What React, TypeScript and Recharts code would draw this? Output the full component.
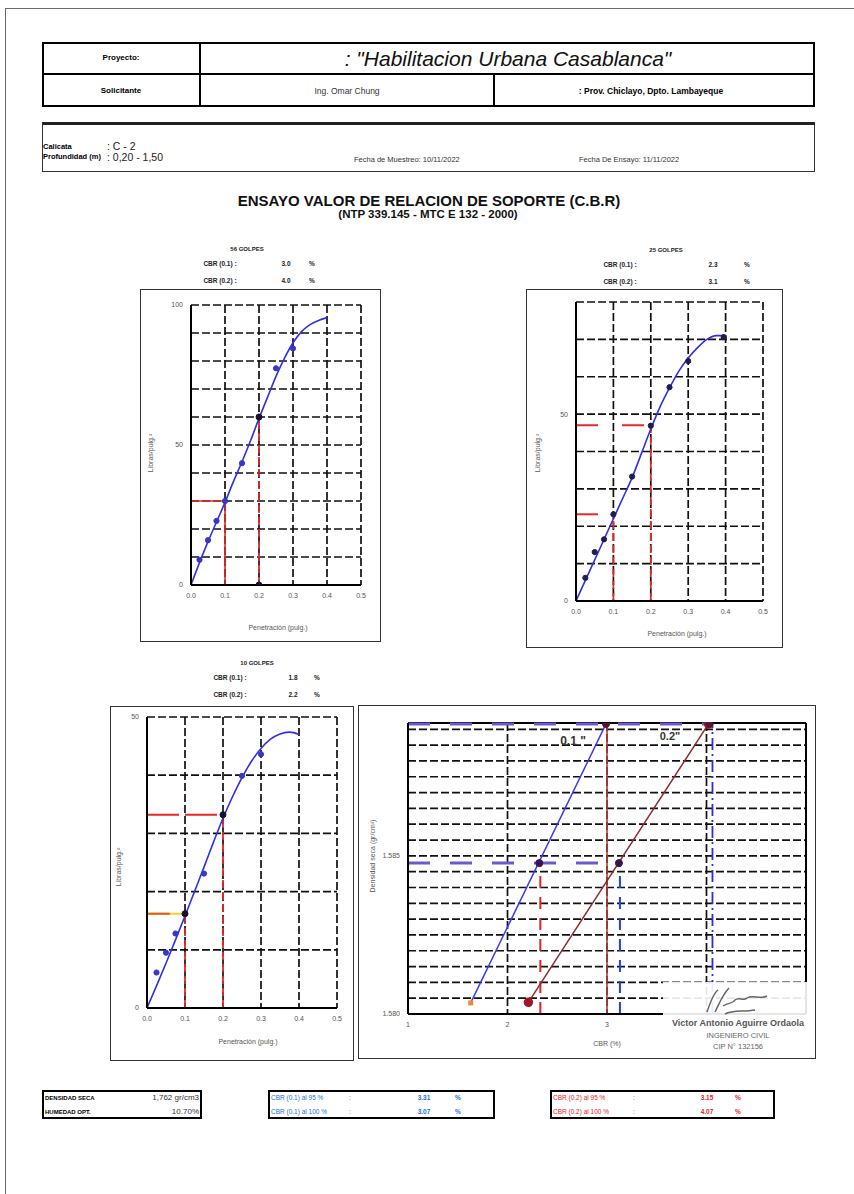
import React from 'react';
import { ComposedChart, Line, XAxis, YAxis, CartesianGrid, ReferenceLine } from 'recharts';

const FONT = '"Liberation Sans", Arial, sans-serif';

// ---------- Penetration charts ----------
const penTicks = [0, 0.1, 0.2, 0.3, 0.4, 0.5];

// 56 golpes
const load56Ticks = [0, 10, 20, 30, 40, 50, 60, 70, 80, 90, 100];
const load56Labeled = [0, 50, 100];
const pts56 = [
  { x: 0.025, y: 9 }, { x: 0.05, y: 16 }, { x: 0.075, y: 22.9 }, { x: 0.1, y: 30 },
  { x: 0.15, y: 43.5 }, { x: 0.2, y: 60 }, { x: 0.25, y: 77.4 }, { x: 0.3, y: 84.5 },
];
const curve56 = [
  { x: 0, y: 0 }, { x: 0.025, y: 8 }, { x: 0.05, y: 15.5 }, { x: 0.075, y: 22.5 }, { x: 0.1, y: 29.5 },
  { x: 0.125, y: 37 }, { x: 0.15, y: 44 }, { x: 0.175, y: 51.5 }, { x: 0.2, y: 59.5 }, { x: 0.225, y: 67 },
  { x: 0.25, y: 74.5 }, { x: 0.275, y: 81 }, { x: 0.3, y: 86.5 }, { x: 0.325, y: 90.5 }, { x: 0.35, y: 93 },
  { x: 0.375, y: 94.5 }, { x: 0.4, y: 95.5 },
];
const marks56 = [{ x: 0.2, y: 60 }, { x: 0.2, y: 0 }];
const guides56 = [
  { x1: 0, y1: 30, x2: 0.1, y2: 30 },
  { x1: 0.1, y1: 0, x2: 0.1, y2: 30 },
  { x1: 0.2, y1: 0, x2: 0.2, y2: 60 },
];
const cbr56 = { c01: '3.0', c02: '4.0' };

// 25 golpes
const load25Ticks = [0, 10, 20, 30, 40, 50, 60, 70, 80];
const load25Labeled = [0, 50];
const pts25 = [
  { x: 0.025, y: 6.2 }, { x: 0.05, y: 13.1 }, { x: 0.075, y: 16.5 }, { x: 0.1, y: 23.2 },
  { x: 0.15, y: 33.3 }, { x: 0.2, y: 46.9 }, { x: 0.25, y: 57.2 }, { x: 0.3, y: 64.2 }, { x: 0.395, y: 70.6 },
];
const curve25 = [
  { x: 0, y: 0 }, { x: 0.025, y: 5.5 }, { x: 0.05, y: 11 }, { x: 0.075, y: 16.5 }, { x: 0.1, y: 22 },
  { x: 0.125, y: 27.5 }, { x: 0.15, y: 33 }, { x: 0.175, y: 39.5 }, { x: 0.2, y: 46 }, { x: 0.225, y: 52 },
  { x: 0.25, y: 57 }, { x: 0.275, y: 61.5 }, { x: 0.3, y: 65 }, { x: 0.325, y: 67.8 }, { x: 0.35, y: 70 },
  { x: 0.375, y: 71 }, { x: 0.4, y: 71 },
];
const marks25: { x: number; y: number }[] = [];
const guides25 = [
  { x1: 0, y1: 47, x2: 0.2, y2: 47 },
  { x1: 0, y1: 23.2, x2: 0.1, y2: 23.2 },
  { x1: 0.1, y1: 0, x2: 0.1, y2: 23.2 },
  { x1: 0.2, y1: 0, x2: 0.2, y2: 47 },
];
const cbr25 = { c01: '2.3', c02: '3.1' };

// 10 golpes
const load10Ticks = [0, 10, 20, 30, 40, 50];
const load10Labeled = [0, 50];
const pts10 = [
  { x: 0.025, y: 6.1 }, { x: 0.05, y: 9.5 }, { x: 0.075, y: 12.8 }, { x: 0.15, y: 23.1 },
  { x: 0.25, y: 39.9 }, { x: 0.3, y: 43.6 },
];
const curve10 = [
  { x: 0, y: 0 }, { x: 0.025, y: 3.8 }, { x: 0.05, y: 7.7 }, { x: 0.075, y: 11.7 }, { x: 0.1, y: 15.8 },
  { x: 0.125, y: 20 }, { x: 0.15, y: 24.2 }, { x: 0.175, y: 28.5 }, { x: 0.2, y: 32.6 }, { x: 0.225, y: 36.3 },
  { x: 0.25, y: 39.6 }, { x: 0.275, y: 42.4 }, { x: 0.3, y: 44.6 }, { x: 0.325, y: 46.2 }, { x: 0.35, y: 47.1 },
  { x: 0.375, y: 47.4 }, { x: 0.4, y: 47 },
];
const marks10 = [{ x: 0.1, y: 16.2 }, { x: 0.2, y: 33.2 }];
const guides10 = [
  { x1: 0, y1: 16.2, x2: 0.1, y2: 16.2 },
  { x1: 0, y1: 16.2, x2: 0.06, y2: 16.2 },
  { x1: 0, y1: 33.2, x2: 0.2, y2: 33.2 },
  { x1: 0.1, y1: 0, x2: 0.1, y2: 16.2 },
  { x1: 0.2, y1: 0, x2: 0.2, y2: 33.2 },
];
const cbr10 = { c01: '1.8', c02: '2.2' };

// ---------- CBR vs density chart ----------
const cbrTicks = [1, 2, 3, 4, 5];
const cbrLabeled = [1, 2, 3]; // 4 and 5 sit under the signature stamp
const densTicks = [
  1.58, 1.5805, 1.581, 1.5815, 1.582, 1.5825, 1.583, 1.5835, 1.584, 1.5845,
  1.585, 1.5855, 1.586, 1.5865, 1.587, 1.5875, 1.588, 1.5885, 1.589,
];
const densLabeled = [1.58, 1.585];
const densDomain = [1.58, 1.5892];
const cbrDomain = [1, 5];
const line01 = [{ x: 1.63, y: 1.58035 }, { x: 2.99, y: 1.58917 }];
const line02 = [{ x: 2.21, y: 1.58037 }, { x: 4.02, y: 1.58917 }];
const dens95 = 1.58477;
const dens100 = 1.58917;
const cbr01at95 = 2.33;
const cbr02at95 = 3.13;
const cbr01at100 = 3.0;
const cbr02at100 = 4.06;
const marks95 = [{ x: 2.32, y: dens95 }, { x: 3.12, y: dens95 }];
const marks100 = [{ x: 2.99, y: dens100 }, { x: 4.03, y: dens100 }];

// ---------- Summary ----------
const densidadSeca = '1,762 gr/cm3';
const humedadOpt = '10.70%';
const cbr01Summary = [{ label: 'CBR (0.1) al 95 %', value: '3.31' }, { label: 'CBR (0.1) al 100 %', value: '3.07' }];
const cbr02Summary = [{ label: 'CBR (0.2) al 95 %', value: '3.15' }, { label: 'CBR (0.2) al 100 %', value: '4.07' }];

// ---------- helpers ----------
type TP = {
  x: number; y: number; children: React.ReactNode; size?: number; bold?: boolean; italic?: boolean;
  color?: string; anchor?: 'start' | 'middle' | 'end'; rotate?: boolean;
};
const T = ({ x, y, children, size = 8, bold, italic, color = '#000', anchor = 'middle', rotate }: TP) => {
  const tx = anchor === 'middle' ? '-50%' : anchor === 'end' ? '-100%' : '0';
  return (
    <div
      style={{
        position: 'absolute', left: x, top: y,
        transform: `translate(${tx}, -50%)${rotate ? ' rotate(-90deg)' : ''}`,
        fontSize: size, fontWeight: bold ? 700 : 400, fontStyle: italic ? 'italic' : 'normal',
        color, whiteSpace: 'nowrap', lineHeight: 1, fontFamily: FONT,
      }}
    >
      {children}
    </div>
  );
};

const Box = ({ x, y, w, h, bw = 2, color = '#000', style = {} }: any) => (
  <div style={{ position: 'absolute', left: x, top: y, width: w, height: h, boxSizing: 'border-box', border: `${bw}px solid ${color}`, ...style }} />
);
const HL = ({ x, y, w, t = 2, color = '#000' }: any) => (
  <div style={{ position: 'absolute', left: x, top: y - t / 2, width: w, height: t, background: color }} />
);
const VL = ({ x, y, h, t = 2, color = '#000' }: any) => (
  <div style={{ position: 'absolute', left: x - t / 2, top: y, width: t, height: h, background: color }} />
);

type Seg = { x1: number; y1: number; x2: number; y2: number };
type SegStyle = { stroke: string; dash?: string; width: number };

const tickStyle = { fontSize: 7, fill: '#555', fontFamily: FONT };

function PenChart(props: any) {
  const { box, plot, yMax, yTicks, yLabeled, pts, curve, marks, guides, guideStyles, ptColor } = props;
  const xAxisH = 20;
  const margin = {
    top: plot.y1 - box.y,
    right: box.x + box.w - plot.x2,
    bottom: box.y + box.h - plot.y2 - xAxisH,
    left: 0,
  };
  return (
    <div style={{ position: 'absolute', left: box.x, top: box.y }}>
      <ComposedChart width={box.w} height={box.h} margin={margin}>
        <XAxis
          type="number" dataKey="x" domain={[0, 0.5]} ticks={penTicks} interval={0}
          tickFormatter={(v: number) => v.toFixed(1)} tick={tickStyle} tickLine={false}
          axisLine={{ stroke: '#000', strokeWidth: 2 }} height={xAxisH} allowDataOverflow
        />
        <YAxis
          type="number" dataKey="y" domain={[0, yMax]} ticks={yTicks} interval={0}
          tickFormatter={(v: number) => (yLabeled.includes(v) ? String(v) : '')} tick={tickStyle}
          tickLine={false} axisLine={{ stroke: '#000', strokeWidth: 2 }} width={plot.x1 - box.x} allowDataOverflow
        />
        <CartesianGrid stroke="#111" strokeDasharray="8 3" strokeWidth={1.7} />
        {guides.map((g: Seg, i: number) => (
          <ReferenceLine
            key={i}
            segment={[{ x: g.x1, y: g.y1 }, { x: g.x2, y: g.y2 }]}
            stroke={guideStyles[i].stroke}
            strokeDasharray={guideStyles[i].dash}
            strokeWidth={guideStyles[i].width}
            ifOverflow="visible"
          />
        ))}
        <Line data={curve} dataKey="y" type="monotone" stroke="#2f2fe6" strokeWidth={1.6} dot={false} isAnimationActive={false} />
        <Line data={pts} dataKey="y" stroke="none" dot={{ r: 2.6, fill: ptColor, stroke: ptColor }} isAnimationActive={false} />
        <Line data={marks} dataKey="y" stroke="none" dot={{ r: 3, fill: '#1a1030', stroke: '#1a1030' }} isAnimationActive={false} />
      </ComposedChart>
    </div>
  );
}

function ChartHeader({ cx, y, title, c01, c02, labelX, valX, pctX }: any) {
  return (
    <>
      <T x={cx} y={y} size={6} bold color="#222">{title}</T>
      <T x={labelX} y={y + 15} size={6.5} bold color="#222">CBR (0.1) :</T>
      <T x={valX} y={y + 15} size={6.5} bold color="#222">{c01}</T>
      <T x={pctX} y={y + 15} size={6.5} bold color="#222">%</T>
      <T x={labelX} y={y + 32} size={6.5} bold color="#222">CBR (0.2) :</T>
      <T x={valX} y={y + 32} size={6.5} bold color="#222">{c02}</T>
      <T x={pctX} y={y + 32} size={6.5} bold color="#222">%</T>
    </>
  );
}

function CbrChart() {
  const box = { x: 358, y: 705, w: 458, h: 354 };
  const plot = { x1: 408, x2: 806, y1: 723, y2: 1014 };
  const xAxisH = 20;
  const margin = {
    top: plot.y1 - box.y,
    right: box.x + box.w - plot.x2,
    bottom: box.y + box.h - plot.y2 - xAxisH,
    left: 0,
  };
  const near = (v: number) => densLabeled.some((l) => Math.abs(l - v) < 1e-7);
  const square = (p: any) => (
    <rect key={`sq${p.index}`} x={p.cx - 2.5} y={p.cy - 2.5} width={5} height={5} fill={p.index === 0 ? '#f08a30' : '#5a1030'} />
  );
  return (
    <div style={{ position: 'absolute', left: box.x, top: box.y }}>
      <ComposedChart width={box.w} height={box.h} margin={margin}>
        <XAxis
          type="number" dataKey="x" domain={cbrDomain} ticks={cbrTicks} interval={0} tick={tickStyle}
          tickFormatter={(v: number) => (cbrLabeled.includes(v) ? String(v) : '')}
          tickLine={false} axisLine={{ stroke: '#000', strokeWidth: 2 }} height={xAxisH} allowDataOverflow
        />
        <YAxis
          type="number" dataKey="y" domain={densDomain} ticks={densTicks} interval={0}
          tickFormatter={(v: number) => (near(v) ? v.toFixed(3) : '')} tick={tickStyle}
          tickLine={false} axisLine={{ stroke: '#000', strokeWidth: 2 }} width={plot.x1 - box.x} allowDataOverflow
        />
        <CartesianGrid stroke="#111" strokeDasharray="8 3" strokeWidth={1.7} />
        <ReferenceLine y={densDomain[1]} stroke="#000" strokeWidth={2} ifOverflow="visible" />
        <ReferenceLine x={cbrDomain[1]} stroke="#000" strokeWidth={2} ifOverflow="visible" />
        <ReferenceLine segment={[{ x: cbr01at100, y: densDomain[0] }, { x: cbr01at100, y: densDomain[1] }]} stroke="#b33a3a" strokeWidth={1.6} ifOverflow="visible" />
        <ReferenceLine segment={[{ x: cbr02at100, y: densDomain[0] }, { x: cbr02at100, y: densDomain[1] }]} stroke="#2a2ae8" strokeDasharray="12 4 2 4" strokeWidth={1.8} ifOverflow="visible" />
        <ReferenceLine segment={[{ x: cbr01at95, y: densDomain[0] }, { x: cbr01at95, y: dens95 }]} stroke="#e82020" strokeDasharray="12 9" strokeWidth={2} ifOverflow="visible" />
        <ReferenceLine segment={[{ x: cbr02at95, y: densDomain[0] }, { x: cbr02at95, y: dens95 }]} stroke="#2040e8" strokeDasharray="12 9" strokeWidth={2} ifOverflow="visible" />
        <ReferenceLine segment={[{ x: cbrDomain[0], y: dens95 }, { x: cbr02at95, y: dens95 }]} stroke="#6a5ad0" strokeDasharray="22 20" strokeWidth={3} ifOverflow="visible" />
        <ReferenceLine segment={[{ x: cbrDomain[0], y: dens100 }, { x: cbr02at100, y: dens100 }]} stroke="#6a5ad0" strokeDasharray="22 20" strokeWidth={3} ifOverflow="visible" />
        <Line data={line01} dataKey="y" type="linear" stroke="#3a3aee" strokeWidth={1.5} dot={square} isAnimationActive={false} />
        <Line data={line02} dataKey="y" type="linear" stroke="#8e2a2a" strokeWidth={1.5} dot={{ r: 4, fill: '#a01828', stroke: '#a01828' }} isAnimationActive={false} />
        <Line data={marks95} dataKey="y" stroke="none" dot={{ r: 3.5, fill: '#3a1450', stroke: '#3a1450' }} isAnimationActive={false} />
        <Line data={marks100} dataKey="y" stroke="none" dot={{ r: 3.5, fill: '#5a1030', stroke: '#5a1030' }} isAnimationActive={false} />
      </ComposedChart>
    </div>
  );
}

const redSolid: SegStyle = { stroke: '#e02828', width: 1.6 };
const redDash: SegStyle = { stroke: '#e02828', dash: '8 4', width: 1.8 };
const redLong: SegStyle = { stroke: '#e82828', dash: '22 24', width: 2 };
const redLong10: SegStyle = { stroke: '#e82828', dash: '32 6', width: 2 };

export default function App() {
  return (
    <div style={{ position: 'absolute', left: 0, top: 0, width: 854, height: 1194, overflow: 'hidden', background: '#fff', fontFamily: FONT }}>
      {/* page border */}
      <div style={{ position: 'absolute', left: 5, top: 8, width: 900, height: 1300, border: '1.5px solid #6a6a6a' }} />

      {/* header table */}
      <Box x={42} y={42} w={773} h={65} bw={2.5} />
      <HL x={42} y={74} w={773} t={2} />
      <VL x={200} y={42} h={65} t={2} />
      <VL x={494} y={74} h={33} t={2} />
      <T x={121} y={58} size={8} bold>Proyecto:</T>
      <T x={508} y={58} size={21} italic color="#111">: "Habilitacion Urbana Casablanca"</T>
      <T x={121} y={91} size={8} bold>Solicitante</T>
      <T x={347} y={91} size={8.5} color="#333">Ing. Omar Chung</T>
      <T x={651} y={91} size={8.5} bold>: Prov. Chiclayo, Dpto. Lambayeque</T>

      {/* info box */}
      <div style={{ position: 'absolute', left: 42, top: 122, width: 773, height: 50, boxSizing: 'border-box', borderTop: '3px solid #222', borderLeft: '1.5px solid #333', borderRight: '1.5px solid #333', borderBottom: '1.5px solid #333' }} />
      <T x={43} y={147} size={7.5} bold anchor="start">Calicata</T>
      <T x={107} y={146} size={10.5} anchor="start" color="#222">: C - 2</T>
      <T x={43} y={157} size={7.5} bold anchor="start">Profundidad (m)</T>
      <T x={107} y={157} size={10.5} anchor="start" color="#222">: 0,20 - 1,50</T>
      <T x={354} y={160} size={7.5} anchor="start" color="#333">Fecha de Muestreo: 10/11/2022</T>
      <T x={579} y={160} size={7.5} anchor="start" color="#333">Fecha De Ensayo: 11/11/2022</T>

      {/* title */}
      <T x={429} y={200} size={15} bold color="#111">ENSAYO VALOR DE RELACION DE SOPORTE (C.B.R)</T>
      <T x={428} y={215} size={11.5} bold color="#111">(NTP 339.145 - MTC E 132 - 2000)</T>

      {/* 56 golpes */}
      <ChartHeader cx={247} y={249} title="56 GOLPES" c01={cbr56.c01} c02={cbr56.c02} labelX={220} valX={286} pctX={312} />
      <Box x={140} y={289} w={241} h={353} bw={1.5} color="#333" />
      <PenChart
        box={{ x: 140, y: 289, w: 241, h: 353 }} plot={{ x1: 191, x2: 361, y1: 305, y2: 585 }}
        yMax={100} yTicks={load56Ticks} yLabeled={load56Labeled} pts={pts56} curve={curve56} marks={marks56}
        guides={guides56} guideStyles={[redSolid, redSolid, redDash]} ptColor="#3636c8"
      />
      <T x={278} y={627} size={7} color="#555">Penetración (pulg.)</T>
      <T x={150} y={453} size={7} color="#555" rotate>Libras/pulg.²</T>

      {/* 25 golpes */}
      <ChartHeader cx={666} y={250} title="25 GOLPES" c01={cbr25.c01} c02={cbr25.c02} labelX={620} valX={713} pctX={747} />
      <Box x={526} y={289} w={257} h={359} bw={1.5} color="#333" />
      <PenChart
        box={{ x: 526, y: 289, w: 257, h: 359 }} plot={{ x1: 576, x2: 763, y1: 302, y2: 601 }}
        yMax={80} yTicks={load25Ticks} yLabeled={load25Labeled} pts={pts25} curve={curve25} marks={marks25}
        guides={guides25} guideStyles={[redLong, redLong, redDash, redDash]} ptColor="#1e1e50"
      />
      <T x={677} y={633} size={7} color="#555">Penetración (pulg.)</T>
      <T x={537} y={453} size={7} color="#555" rotate>Libras/pulg.²</T>

      {/* 10 golpes */}
      <ChartHeader cx={257} y={663} title="10 GOLPES" c01={cbr10.c01} c02={cbr10.c02} labelX={230} valX={293} pctX={317} />
      <Box x={110} y={706} w={244} h={355} bw={1.5} color="#333" />
      <PenChart
        box={{ x: 110, y: 706, w: 244, h: 355 }} plot={{ x1: 147, x2: 337, y1: 717, y2: 1008 }}
        yMax={50} yTicks={load10Ticks} yLabeled={load10Labeled} pts={pts10} curve={curve10} marks={marks10}
        guides={guides10}
        guideStyles={[{ stroke: '#f0d030', width: 2 }, { stroke: '#e8561a', width: 2 }, redLong10, redDash, redDash]}
        ptColor="#3636c8"
      />
      <T x={248} y={1041} size={7} color="#555">Penetración (pulg.)</T>
      <T x={118} y={867} size={7} color="#555" rotate>Libras/pulg.²</T>

      {/* CBR vs density */}
      <Box x={358} y={705} w={458} h={354} bw={1.5} color="#333" />
      <CbrChart />
      <T x={573} y={741} size={12} bold color="#333">0.1 "</T>
      <T x={670} y={736} size={11} bold color="#333">0.2"</T>
      <T x={607} y={1043} size={7} color="#555">CBR (%)</T>
      <T x={372} y={856} size={7} color="#555" rotate>Densidad seca (gr/cm³)</T>

      {/* signature stamp */}
      <div style={{ position: 'absolute', left: 663, top: 982, width: 150, height: 74, background: 'rgba(255,255,255,0.9)' }}>
        <svg width={150} height={40} style={{ position: 'absolute', left: 0, top: 0 }}>
          <path d="M44 30 C48 18 52 10 55 8 M52 30 C56 22 60 12 66 6 M60 24 C66 20 70 22 72 18 C76 14 80 20 84 16 C90 12 96 18 104 14 M62 32 C70 28 80 30 92 28" stroke="#666" strokeWidth={1.5} fill="none" />
        </svg>
        <T x={75} y={41} size={9} bold color="#555">Victor Antonio Aguirre Ordaola</T>
        <T x={75} y={54} size={7.5} color="#666">INGENIERO CIVIL</T>
        <T x={75} y={65} size={7.5} color="#666">CIP N° 132156</T>
      </div>

      {/* summary boxes */}
      <Box x={42} y={1090} w={160} h={29} bw={2.5} />
      <T x={45} y={1098} size={6} bold anchor="start">DENSIDAD SECA</T>
      <T x={199} y={1098} size={8} anchor="end" color="#333">{densidadSeca}</T>
      <T x={45} y={1112} size={6} bold anchor="start">HUMEDAD OPT.</T>
      <T x={199} y={1112} size={8} anchor="end" color="#333">{humedadOpt}</T>

      <Box x={268} y={1090} w={227} h={29} bw={2.5} />
      {cbr01Summary.map((r, i) => (
        <React.Fragment key={i}>
          <T x={271} y={1098 + i * 14} size={6.5} anchor="start" color="#1a6fd8">{r.label}</T>
          <T x={350} y={1098 + i * 14} size={6.5} color="#1a6fd8">:</T>
          <T x={424} y={1098 + i * 14} size={6.5} bold color="#1a6fd8">{r.value}</T>
          <T x={458} y={1098 + i * 14} size={6.5} bold color="#1a6fd8">%</T>
        </React.Fragment>
      ))}

      <Box x={550} y={1090} w={225} h={29} bw={2.5} />
      {cbr02Summary.map((r, i) => (
        <React.Fragment key={i}>
          <T x={553} y={1098 + i * 14} size={6.5} anchor="start" color="#e8202a">{r.label}</T>
          <T x={634} y={1098 + i * 14} size={6.5} color="#e8202a">:</T>
          <T x={707} y={1098 + i * 14} size={6.5} bold color="#e8202a">{r.value}</T>
          <T x={738} y={1098 + i * 14} size={6.5} bold color="#e8202a">%</T>
        </React.Fragment>
      ))}
    </div>
  );
}
